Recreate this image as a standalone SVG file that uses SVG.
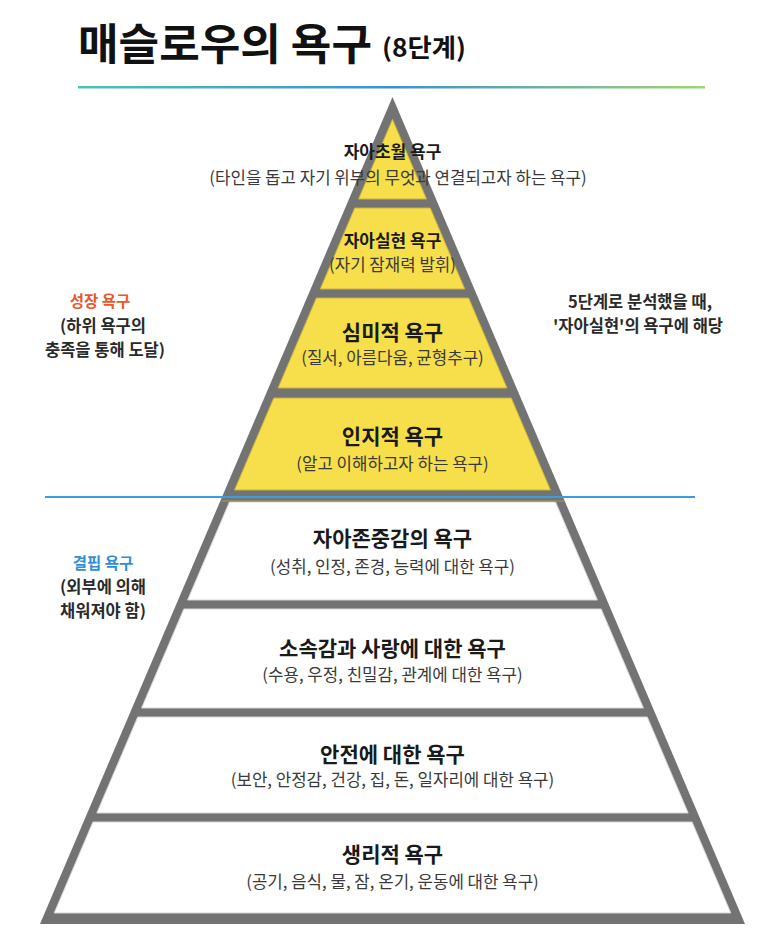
<svg xmlns="http://www.w3.org/2000/svg" width="773" height="946" viewBox="0 0 773 946">
  <defs>
    <linearGradient id="topline" gradientUnits="userSpaceOnUse" x1="78" y1="0" x2="705" y2="0">
      <stop offset="0" stop-color="#4ec1b6"/>
      <stop offset="0.5" stop-color="#3f8fd0"/>
      <stop offset="1" stop-color="#9fd66f"/>
    </linearGradient>
    <style>
      text { font-family: "Noto Sans CJK KR", "Noto Sans", sans-serif; }
      .ttl { font-size: 21px; font-weight: 700; fill: #1a1a1a; text-anchor: middle; }
      .ttls { font-size: 17px; font-weight: 700; fill: #1a1a1a; text-anchor: middle; }
      .sub { font-size: 16.8px; font-weight: 400; fill: #3a3a3a; text-anchor: middle; }
      .side { font-size: 16.5px; font-weight: 700; fill: #2a2a2a; text-anchor: middle; }
      .yel { fill: #f6df4a; stroke: #c8b13c; stroke-width: 1; }
      .wht { fill: #ffffff; stroke: #d6d6d6; stroke-width: 1; }
    </style>
  </defs>
  <rect width="773" height="946" fill="#ffffff"/>

  <g id="title">
    <text x="78" y="60" font-size="43" font-weight="700" fill="#111" textLength="294" lengthAdjust="spacingAndGlyphs">매슬로우의 욕구</text>
    <text x="382" y="57" font-size="25" font-weight="700" fill="#111" textLength="84" lengthAdjust="spacingAndGlyphs">(8단계)</text>
  </g>

  <g id="connectors">
    <rect x="78" y="86" width="627" height="2.5" fill="url(#topline)"/>
  </g>

  <g id="pyramid-frame">
    <polygon points="392.5,97 745,924 40,924" fill="#737373"/>
  </g>

  <g id="layer1">
    <polygon class="yel" points="392.5,119.3 426.5,199 358.5,199"/>
  </g>
  <g id="layer2">
    <polygon class="yel" points="354.7,208 430.3,208 464.8,289 320.2,289"/>
    <text class="ttls" x="392.5" y="247">자아실현 욕구</text>
    <text class="sub" x="392.5" y="271">(자기 잠재력 발휘)</text>
  </g>
  <g id="layer3">
    <polygon class="yel" points="316.3,298 468.7,298 507,388 278,388"/>
    <text class="ttl" x="392.5" y="340">심미적 욕구</text>
    <text class="sub" x="392.5" y="364">(질서, 아름다움, 균형추구)</text>
  </g>
  <g id="layer4">
    <polygon class="yel" points="273.7,398 511.3,398 550.5,490 234.5,490"/>
    <text class="ttl" x="392.5" y="444">인지적 욕구</text>
    <text class="sub" x="392.5" y="470">(알고 이해하고자 하는 욕구)</text>
  </g>
  <g id="layer5">
    <polygon class="wht" points="229.4,502 555.6,502 597.4,600 187.6,600"/>
    <text class="ttl" x="392.5" y="546">자아존중감의 욕구</text>
    <text class="sub" x="392.5" y="573">(성취, 인정, 존경, 능력에 대한 욕구)</text>
  </g>
  <g id="layer6">
    <polygon class="wht" points="183.8,609 601.2,609 643.4,708 141.6,708"/>
    <text class="ttl" x="392.5" y="656">소속감과 사랑에 대한 욕구</text>
    <text class="sub" x="392.5" y="681">(수용, 우정, 친밀감, 관계에 대한 욕구)</text>
  </g>
  <g id="layer7">
    <polygon class="wht" points="137.7,717 647.3,717 688.2,813 96.8,813"/>
    <text class="ttl" x="392.5" y="762">안전에 대한 욕구</text>
    <text class="sub" x="392.5" y="786">(보안, 안정감, 건강, 집, 돈, 일자리에 대한 욕구)</text>
  </g>
  <g id="layer8">
    <polygon class="wht" points="92.9,822 692.1,822 730.8,913 54.2,913"/>
    <text class="ttl" x="392.5" y="862">생리적 욕구</text>
    <text class="sub" x="392.5" y="888">(공기, 음식, 물, 잠, 온기, 운동에 대한 욕구)</text>
  </g>

  <g id="divider">
    <line x1="221" y1="501" x2="564" y2="501" stroke="#a99a48" stroke-width="1"/>
    <line x1="45" y1="497" x2="695" y2="497" stroke="#3d9be0" stroke-width="2"/>
  </g>

  <g id="layer1-text">
    <text class="ttls" x="392.5" y="158">자아초월 욕구</text>
    <text class="sub" x="398" y="184">(타인을 돕고 자기 위부의 무엇과 연결되고자 하는 욕구)</text>
  </g>

  <g id="label-growth">
    <text class="side" x="100" y="307" style="fill:#e9582b;font-size:15.5px">성장 욕구</text>
    <text class="side" x="103" y="332">(하위 욕구의</text>
    <text class="side" x="105" y="356">충족을 통해 도달)</text>
  </g>

  <g id="label-deficiency">
    <text class="side" x="103" y="569" style="fill:#2f8fd6;font-size:15.5px">결핍 욕구</text>
    <text class="side" x="103" y="593">(외부에 의해</text>
    <text class="side" x="103" y="617">채워져야 함)</text>
  </g>

  <g id="note-right">
    <text class="side" x="640" y="308">5단계로 분석했을 때,</text>
    <text class="side" x="638" y="332">'자아실현'의 욕구에 해당</text>
  </g>
</svg>
